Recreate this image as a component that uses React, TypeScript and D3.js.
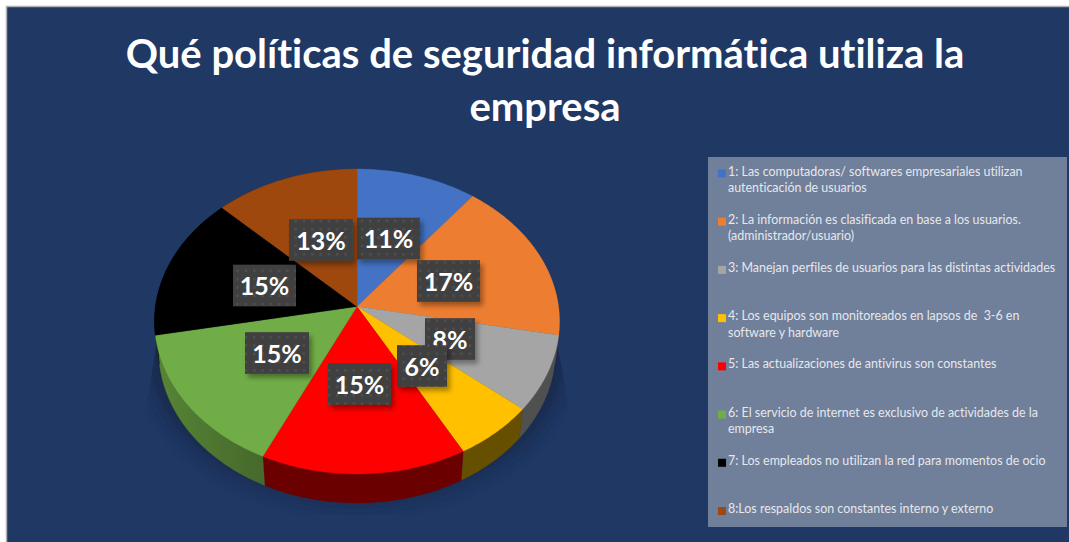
import React from "react";
import * as d3 from "d3";

const categories = [
  "1: Las computadoras/ softwares empresariales utilizan|autenticación de usuarios",
  "2: La información es clasificada en base a los usuarios.|(administrador/usuario)",
  "3: Manejan perfiles de usuarios para las distintas actividades",
  "4: Los equipos son monitoreados en lapsos de  3-6 en|software y hardware",
  "5: Las actualizaciones de antivirus son constantes",
  "6: El servicio de internet es exclusivo de actividades de la|empresa",
  "7: Los empleados no utilizan la red para momentos de ocio",
  "8:Los respaldos son constantes interno y externo",
];
const values = [10.6, 17.4, 8, 6, 15, 15, 15.3, 12.7];
const colors = ["#4472c4", "#ed7d31", "#a5a5a5", "#ffc000", "#ff0000", "#70ad47", "#000000", "#9e480e"];
const sideColors = ["#2a4578", "#8f4b1d", "#505050", "#665000", "#6b0000", "#466b2c", "#000000", "#5f2b08"];
const titleLines = ["Qué políticas de seguridad informática utiliza la", "empresa"];

// label box centres and widths, in page pixels (layout, not data)
const labelCx = [388.5, 448.5, 450, 422, 359.5, 277, 264.5, 321];
const labelCy = [238.5, 281, 339, 366, 384, 353, 285.5, 240];
const labelW = [63, 63, 50, 50, 63, 64, 63, 64];
const labelOrder = [0, 1, 2, 3, 4, 5, 6, 7];

const W = 1069;
const H = 542;
const cx = 357;
const cy = 306.5;
const persp = 0.0984;
const A = 151;
const D = 201.5;
const depth = 29;

function project(theta: number, r = 1, sx = 1, dy = 0): [number, number] {
  const u = Math.sin(theta) * r;
  const v = Math.cos(theta) * r;
  const den = 1 + persp * v;
  return [cx + (sx * D * u) / den, cy + dy - (A * v) / den];
}

const line = d3.line<[number, number]>().x((d) => d[0]).y((d) => d[1]).curve(d3.curveLinear);
const arcs = d3.pie<number>().sort(null).value((d) => d)(values);

function samples(a: number, b: number): number[] {
  const n = Math.max(2, Math.ceil((b - a) / 0.015));
  return d3.range(n + 1).map((i) => a + ((b - a) * i) / n);
}

const legendY = d3.scalePoint<number>().domain(d3.range(categories.length)).range([175.5, 513]);
const fullCircle = samples(0, Math.PI * 2);

export default function App() {
  return (
    <svg width={W} height={H} style={{ position: "absolute", left: 0, top: 0, display: "block", fontVariantLigatures: "none" }} fontFamily="Lato, Carlito, sans-serif">
      <defs>
        <pattern id="dots" width={8.3} height={8.3} patternUnits="userSpaceOnUse" x={2} y={2}>
          <rect width={8.3} height={8.3} fill="#3f3f3f" />
          <rect x={2} y={2} width={2.4} height={2.4} fill="#515151" />
        </pattern>
        <filter id="blur" x="-20%" y="-20%" width="140%" height="140%">
          <feGaussianBlur stdDeviation={9} />
        </filter>
        <filter id="boxShadow" x="-30%" y="-30%" width="170%" height="170%">
          <feDropShadow dx={3} dy={4} stdDeviation={2.5} floodColor="#000" floodOpacity={0.35} />
        </filter>
        <clipPath id="shadowClip">
          <path d="M160,320 L143,430 L143,515 L573,515 L573,430 L553,320 Z" />
        </clipPath>
        {arcs.map((a, i) => (
          <linearGradient key={i} id={`side${i}`} gradientUnits="userSpaceOnUse" x1={155} x2={560} y1={0} y2={0}>
            <stop offset="0" stopColor={d3.color(sideColors[i])!.brighter(0.6).formatHex()} />
            <stop offset="0.25" stopColor={sideColors[i]} />
            <stop offset="1" stopColor={sideColors[i]} />
          </linearGradient>
        ))}
      </defs>
      <rect x={0} y={0} width={W} height={H} fill="#ffffff" />
      <rect x={6.5} y={6.5} width={W} height={H} fill="#1f3864" stroke="#b0b0b0" strokeWidth={1.5} />

      {titleLines.map((t, i) => (
        <text key={i} x={545} y={68 + i * 53} textAnchor="middle" fill="#ffffff" fontWeight={700} fontSize={40}>{t}</text>
      ))}

      <g clipPath="url(#shadowClip)">
        <path
          d={line(fullCircle.map((t) => project(t, 1.0, 1.03, 28)))! + "Z"}
          fill="#12203f"
          opacity={0.72}
          filter="url(#blur)"
        />
      </g>

      {arcs.map((a, i) => {
        const ts = samples(a.startAngle, a.endAngle);
        const pts = [
          ...ts.map((t) => project(t)),
          ...ts.slice().reverse().map((t) => project(t, 1, 0.98, depth)),
        ];
        return <path key={i} d={line(pts)! + "Z"} fill={`url(#side${i})`} stroke={sideColors[i]} strokeWidth={0.3} />;
      })}
      {arcs.map((a, i) => {
        const pts: [number, number][] = [[cx, cy], ...samples(a.startAngle, a.endAngle).map((t) => project(t))];
        return <path key={i} d={line(pts)! + "Z"} fill={colors[i]} stroke={colors[i]} strokeWidth={0.3} />;
      })}

      {labelOrder.map((i) => (
        <g key={i}>
          <rect x={labelCx[i] - labelW[i] / 2} y={labelCy[i] - 20.8} width={labelW[i]} height={41.6} fill="url(#dots)" filter="url(#boxShadow)" />
          <text x={labelCx[i]} y={labelCy[i] + 9.5} textAnchor="middle" fill="#ffffff" fontWeight={700} fontSize={25}>{`${Math.round(values[i])}%`}</text>
        </g>
      ))}

      <rect x={708} y={157} width={359} height={370} fill="#707f9a" />
      {categories.map((c, i) => {
        const y = legendY(i)!;
        return (
          <g key={i}>
            <rect x={718} y={y - 6} width={8} height={8} fill={colors[i]} />
            {c.split("|").map((l, j) => (
              <text key={j} x={728} y={y + j * 16.5} fill="#e6e8ec" fontSize={12.45} style={{ whiteSpace: "pre" }}>{l}</text>
            ))}
          </g>
        );
      })}
    </svg>
  );
}
